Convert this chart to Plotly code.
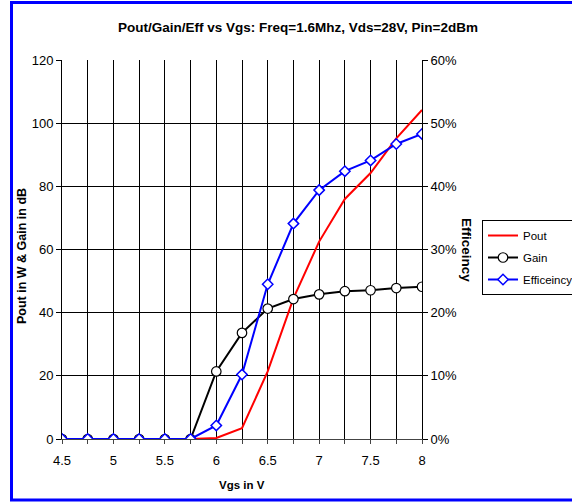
import plotly.graph_objects as go

vgs = [4.5, 4.75, 5.0, 5.25, 5.5, 5.75, 6.0, 6.25, 6.5, 6.75, 7.0, 7.25, 7.5, 7.75, 8.0]
pout = [0, 0, 0, 0, 0, 0, 0.3, 3.4, 21.4, 44.5, 62.5, 76.0, 84.2, 95.2, 104.2]
gain = [0, 0, 0, 0, 0, 0, 21.4, 33.6, 41.3, 44.3, 45.8, 46.8, 47.1, 47.8, 48.2]
eff = [0, 0, 0, 0, 0, 0, 0.0215, 0.102, 0.245, 0.341, 0.394, 0.424, 0.441, 0.467, 0.483]

x_tickvals = [4.5, 4.75, 5.0, 5.25, 5.5, 5.75, 6.0, 6.25, 6.5, 6.75, 7.0, 7.25, 7.5, 7.75, 8.0]
x_ticktext = ["4.5", "", "5", "", "5.5", "", "6", "", "6.5", "", "7", "", "7.5", "", "8"]

FONT = "Liberation Sans, Arial, sans-serif"

fig = go.Figure()
fig.add_trace(go.Scatter(x=vgs, y=pout, name="Pout", mode="lines", legendgroup="a",
                         line=dict(color="#FF0000", width=2)))
fig.add_trace(go.Scatter(x=vgs, y=gain, name="Gain", mode="lines+markers", legendgroup="b",
                         line=dict(color="#000000", width=2),
                         marker=dict(symbol="circle", size=9.5, color="white",
                                     line=dict(color="#000000", width=1.2))))
fig.add_trace(go.Scatter(x=vgs, y=eff, name="Efficeincy", mode="lines+markers", yaxis="y2",
                         legendgroup="c",
                         line=dict(color="#0000FF", width=2),
                         marker=dict(symbol="diamond", size=8, color="white",
                                     line=dict(color="#0000FF", width=1.5))))

fig.update_layout(
    width=572, height=503,
    margin=dict(l=62, r=150, t=60, b=64, autoexpand=False),
    paper_bgcolor="white", plot_bgcolor="white",
    font=dict(family=FONT, size=13, color="black"),
    showlegend=True,
    legend=dict(x=(482 - 62) / 360, y=(439 - 220) / 379, xanchor="left", yanchor="top",
                bordercolor="black", borderwidth=1, bgcolor="white",
                font=dict(size=11.5, family=FONT), tracegroupgap=3,
                itemwidth=30),
    xaxis=dict(range=[4.5, 8], tickvals=x_tickvals, ticktext=x_ticktext,
               showgrid=True, gridcolor="black", gridwidth=1,
               showline=True, linecolor="#444", linewidth=1,
               ticks="outside", ticklen=4, tickcolor="#444", ticklabelstandoff=5,
               zeroline=False, tickfont=dict(size=13)),
    yaxis=dict(range=[0, 120], dtick=20, showgrid=True, gridcolor="black", gridwidth=1,
               showline=True, linecolor="black", linewidth=1,
               ticks="outside", ticklen=5, tickcolor="black", zeroline=False,
               tickfont=dict(size=13)),
    yaxis2=dict(range=[0, 0.6], dtick=0.1, tickformat=".0%", overlaying="y", side="right",
                showgrid=False, showline=True, linecolor="black", linewidth=1,
                ticks="outside", ticklen=5, tickcolor="black", zeroline=False,
                tickfont=dict(size=13)),
    annotations=[
        dict(text="<b>Pout/Gain/Eff vs Vgs: Freq=1.6Mhz, Vds=28V, Pin=2dBm</b>",
             xref="paper", yref="paper", x=(298 - 62) / 360, y=(439 - 28) / 379,
             showarrow=False, font=dict(size=13.5, family=FONT), xanchor="center", yanchor="middle"),
        dict(text="<b>Vgs in V</b>", xref="paper", yref="paper",
             x=(242 - 62) / 360, y=(439 - 485) / 379, showarrow=False,
             font=dict(size=11.5, family=FONT), xanchor="center", yanchor="middle"),
        dict(text="<b>Pout in W & Gain in dB</b>", xref="paper", yref="paper",
             x=(22 - 62) / 360, y=(439 - 256) / 379, showarrow=False, textangle=-90,
             font=dict(size=12.5, family=FONT), xanchor="center", yanchor="middle"),
        dict(text="<b>Efficeincy</b>", xref="paper", yref="paper",
             x=(467 - 62) / 360, y=(439 - 250) / 379, showarrow=False, textangle=90,
             font=dict(size=13.5, family=FONT), xanchor="center", yanchor="middle"),
    ],
    shapes=[
        dict(type="rect", xref="paper", yref="paper",
             x0=(11.5 - 62) / 360, x1=(580 - 62) / 360,
             y0=(439 - 500) / 379, y1=(439 - 2.5) / 379,
             line=dict(color="#0000FF", width=3), fillcolor="rgba(0,0,0,0)", layer="below"),
    ],
)

fig.write_html("out.html", config={"displayModeBar": False},
               post_script="document.body.style.margin='0';document.documentElement.style.margin='0';")
